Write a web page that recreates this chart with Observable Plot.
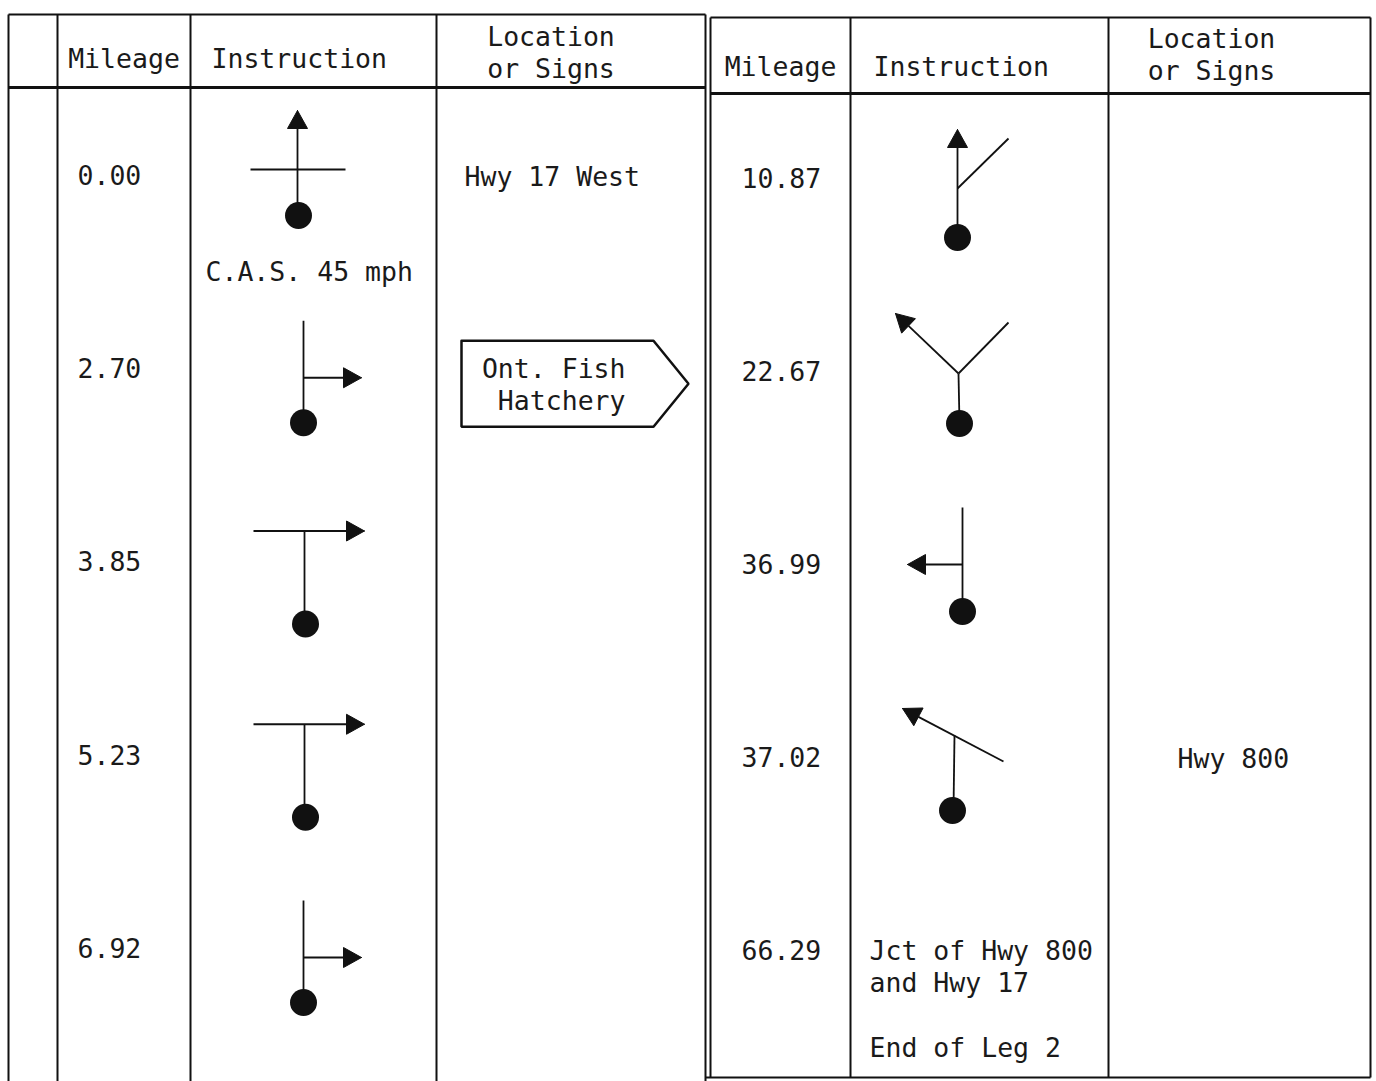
<!DOCTYPE html>
<html><head><meta charset="utf-8">
<script src="https://cdn.jsdelivr.net/npm/d3@7"></script>
<script src="https://cdn.jsdelivr.net/npm/@observablehq/plot@0.6"></script>
<style>html,body{margin:0;padding:0;background:#fff;} #chart svg{display:block}</style>
</head><body><div id="chart"></div>
<script>
// ---------------- data ----------------
const headerLabels = ["Mileage", "Instruction", "Location\nor Signs"];

const leftMileage  = ["0.00", "2.70", "3.85", "5.23", "6.92"];
const leftTurn     = ["straightCross", "rightTurn", "teeRight", "teeRight", "rightTurn"];
const leftLocation = ["Hwy 17 West", "", "", "", ""];
const leftSign     = ["", "Ont. Fish\nHatchery", "", "", ""];
const leftNote     = ["C.A.S. 45 mph", "", "", "", ""];

const rightMileage  = ["10.87", "22.67", "36.99", "37.02", "66.29"];
const rightTurn     = ["straightPastRight", "forkLeft", "leftTurn", "skewLeft", ""];
const rightLocation = ["", "", "", "Hwy 800", ""];
const rightNote     = ["", "", "", "", "Jct of Hwy 800\nand Hwy 17\n\nEnd of Leg 2"];

// ---------------- layout ----------------
const W = 1376, H = 1081;
const FONT = "'DejaVu Sans Mono', 'Liberation Mono', monospace";
const FS = 26.5;
const LH = 1.22;

const tables = [
  {
    edges: [8, 57, 190, 436, 705], top: 14, headBottom: 87, bottom: H,
    headY: 57, headY2: 51, locHeadDx: -20, rowY0: 174, rowStep: 193.25,
    mileageX: 77, instrX: 211, symX: 303, locX: 464, noteX: 205,
    mileage: leftMileage, turn: leftTurn, location: leftLocation, sign: leftSign, note: leftNote,
    headCols: [1, 2, 3]
  },
  {
    edges: [710, 850, 1108, 1370], top: 17, headBottom: 93, bottom: 1077,
    headY: 65.5, headY2: 53, locHeadDx: -28, rowY0: 177, rowStep: 193,
    mileageX: 741, instrX: 873, symX: 958, locX: 1177, noteX: 869,
    mileage: rightMileage, turn: rightTurn, location: rightLocation, sign: ["", "", "", "", ""], note: rightNote,
    headCols: [0, 1, 2]
  }
];

// Road-symbol glyph shapes (offsets from the symbol anchor of a row)
const glyphs = {
  straightCross:     {arrows: [[-6, 41, -6, -64]], lines: [[-53, -5, 42, -5]], dot: [-5, 41]},
  rightTurn:         {arrows: [[0, 10, 58, 10]], lines: [[0, -47, 0, 55]], dot: [0, 55]},
  teeRight:          {arrows: [[-50, -30, 61, -30]], lines: [[1, -30, 1, 63]], dot: [2, 63]},
  straightPastRight: {arrows: [[-1, 60, -1, -48]], lines: [[-1, 11, 50, -39]], dot: [-1, 60]},
  forkLeft:          {arrows: [[0, 3, -63, -57]], lines: [[0, 3, 50, -48], [0, 3, 1, 53]], dot: [1, 53]},
  leftTurn:          {arrows: [[4, 1, -51, 1]], lines: [[4, -56, 4, 48]], dot: [4, 48]},
  skewLeft:          {arrows: [[45, 5, -56, -48]], lines: [[-4, -21, -5, 54]], dot: [-6, 54]}
};
const HEAD_LEN = 18, HEAD_HALF = 10;

// ---------------- build mark tables ----------------
const tableLines = [], heavyLines = [], symLines = [], heads = [], dots = [], signs = [];
const textStart = [], textMid = [], textEnd = [];

tables.forEach((t, ti) => {
  const left = t.edges[0], right = t.edges[t.edges.length - 1];
  tableLines.push({x1: left, y1: t.top, x2: right, y2: t.top});
  heavyLines.push({x1: left, y1: t.headBottom, x2: right, y2: t.headBottom});
  t.edges.forEach(x => tableLines.push({x1: x, y1: t.top, x2: x, y2: t.bottom}));
  if (t.bottom < H) tableLines.push({x1: left - 5, y1: t.bottom, x2: right, y2: t.bottom});

  // headers
  headerLabels.forEach((lab, k) => {
    const c = t.headCols[k];
    const x0 = t.edges[c], x1 = t.edges[c + 1];
    if (k === 0) textMid.push({x: (x0 + x1) / 2, y: t.headY, text: lab});
    else if (k === 1) textStart.push({x: t.instrX, y: t.headY, text: lab});
    else textMid.push({x: (x0 + x1) / 2 + t.locHeadDx, y: t.headY2, text: lab});
  });

  t.mileage.forEach((m, i) => {
    const ry = t.rowY0 + i * t.rowStep;
    textStart.push({x: t.mileageX, y: ry, text: m});
    const g = glyphs[t.turn[i]];
    if (g) {
      g.lines.forEach(([a, b, c, d]) => symLines.push({x1: t.symX + a, y1: ry + b, x2: t.symX + c, y2: ry + d}));
      g.arrows.forEach(([a, b, c, d], j) => {
        const fx = t.symX + a, fy = ry + b, tx = t.symX + c, ty = ry + d;
        const len = Math.hypot(tx - fx, ty - fy), ux = (tx - fx) / len, uy = (ty - fy) / len;
        const bx = tx - HEAD_LEN * ux, by = ty - HEAD_LEN * uy;
        symLines.push({x1: fx, y1: fy, x2: bx, y2: by});
        const id = `${ti}-${i}-${j}`;
        [[tx, ty], [bx - HEAD_HALF * uy, by + HEAD_HALF * ux], [bx + HEAD_HALF * uy, by - HEAD_HALF * ux], [tx, ty]]
          .forEach(([x, y]) => heads.push({id, x, y}));
      });
      dots.push({x: t.symX + g.dot[0], y: ry + g.dot[1]});
    }
    if (t.location[i]) textStart.push({x: t.locX, y: ry + 1, text: t.location[i]});
    if (t.note[i]) {
      if (g) textStart.push({x: t.noteX, y: ry + 96, text: t.note[i]});
      else {
        const n = t.note[i].split("\n").length;
        textStart.push({x: t.noteX, y: ry + (n - 1) * FS * LH / 2, text: t.note[i]});
      }
    }
    if (t.sign[i]) {
      const lx = t.edges[3];
      const id = `sign-${ti}-${i}`;
      [[25, -27], [217, -27], [252, 16], [217, 59], [25, 59], [25, -27]]
        .forEach(([a, b]) => signs.push({id, x: lx + a, y: ry + b}));
      textEnd.push({x: lx + 189, y: ry + 16, text: t.sign[i]});
    }
  });
});

// ---------------- plot ----------------
const textOpts = {x: "x", y: "y", text: "text", fontFamily: FONT, fontSize: FS, lineHeight: LH, fill: "#1a1a1a"};
const chart = Plot.plot({
  width: W, height: H, margin: 0,
  x: {domain: [0, W], range: [0, W], axis: null},
  y: {domain: [0, H], range: [0, H], axis: null},
  style: {background: "#fff"},
  marks: [
    Plot.link(tableLines, {x1: "x1", y1: "y1", x2: "x2", y2: "y2", stroke: "#111", strokeWidth: 2}),
    Plot.link(heavyLines, {x1: "x1", y1: "y1", x2: "x2", y2: "y2", stroke: "#111", strokeWidth: 3}),
    Plot.link(symLines, {x1: "x1", y1: "y1", x2: "x2", y2: "y2", stroke: "#111", strokeWidth: 1.8}),
    Plot.line(heads, {x: "x", y: "y", z: "id", fill: "#111", stroke: "#111", strokeWidth: 1, curve: "linear"}),
    Plot.dot(dots, {x: "x", y: "y", r: 13.5, fill: "#111", stroke: "none"}),
    Plot.line(signs, {x: "x", y: "y", z: "id", fill: "none", stroke: "#111", strokeWidth: 2.5, strokeLinejoin: "miter"}),
    Plot.text(textStart, {...textOpts, textAnchor: "start"}),
    Plot.text(textMid, {...textOpts, textAnchor: "middle"}),
    Plot.text(textEnd, {...textOpts, textAnchor: "end"})
  ]
});
document.getElementById("chart").appendChild(chart);
</script>
</body></html>
